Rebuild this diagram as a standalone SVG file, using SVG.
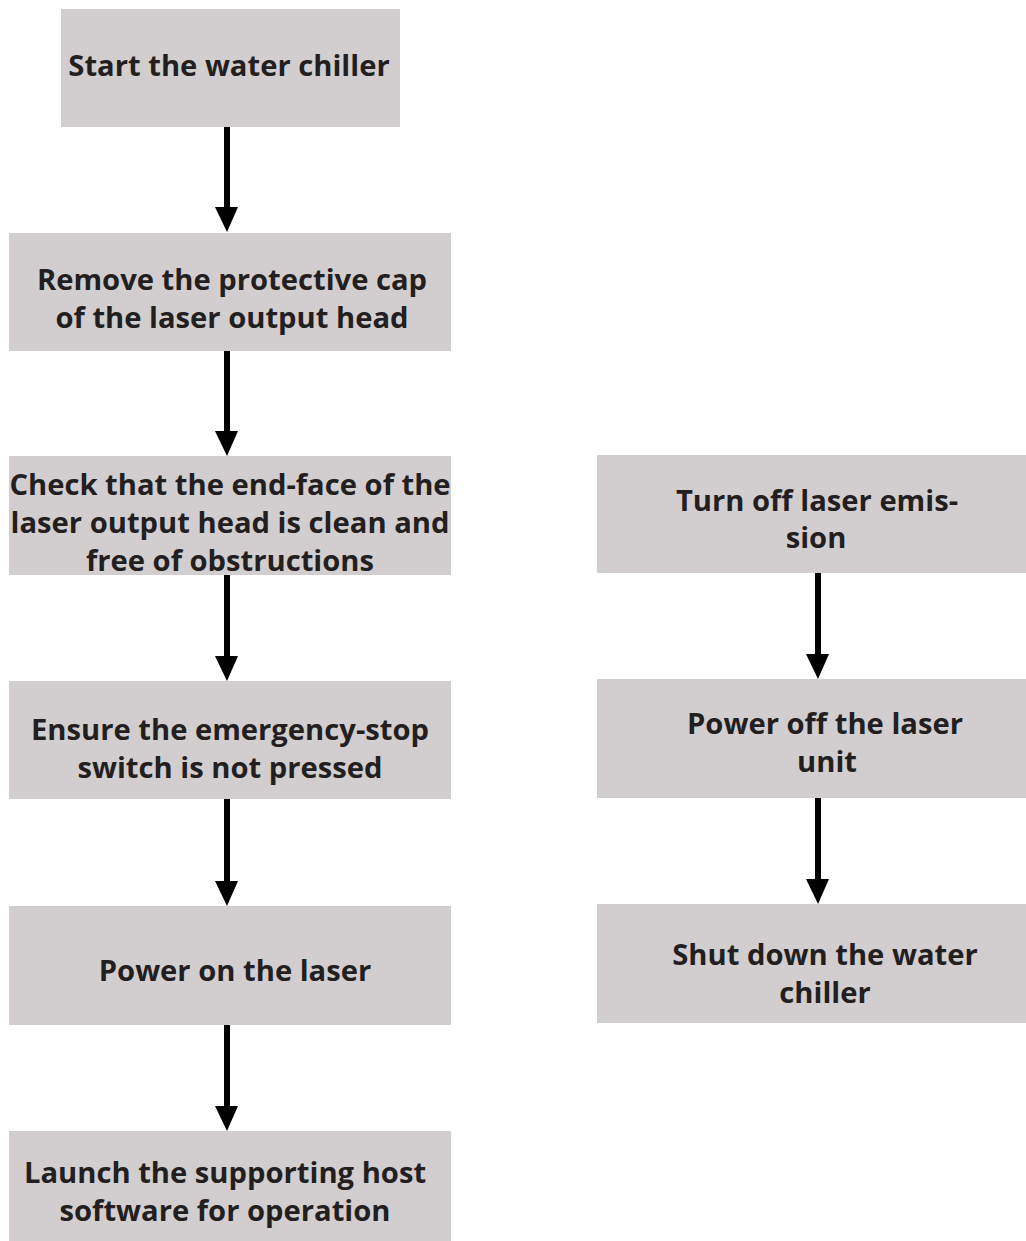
<svg xmlns="http://www.w3.org/2000/svg" width="1026" height="1241" viewBox="0 0 1026 1241">
<style>
.box{fill:#d2cecf}
.t{font-family:"Open Sans","Liberation Sans",sans-serif;font-weight:700;font-size:29.2px;fill:#231f20;text-anchor:middle}
.c{stroke:#000;stroke-width:6;fill:none}
</style>
<rect width="1026" height="1241" fill="#fff"/>
<g id="connectors">
<line class="c" x1="227" y1="127" x2="227" y2="207"/><path d="M215,207 L238,207 L227,232 Z"/>
<line class="c" x1="227" y1="351" x2="227" y2="431"/><path d="M215,431 L238,431 L227,456 Z"/>
<line class="c" x1="227" y1="575" x2="227" y2="656"/><path d="M215,656 L238,656 L227,681 Z"/>
<line class="c" x1="227" y1="799" x2="227" y2="881"/><path d="M215,881 L238,881 L227,906 Z"/>
<line class="c" x1="227" y1="1025" x2="227" y2="1106"/><path d="M215,1106 L238,1106 L227,1131 Z"/>
<line class="c" x1="818" y1="573" x2="818" y2="654"/><path d="M806,654 L829,654 L818,679 Z"/>
<line class="c" x1="818" y1="798" x2="818" y2="879"/><path d="M806,879 L829,879 L818,904 Z"/>
</g>
<g id="n1"><rect class="box" x="61" y="9" width="339" height="118"/>
<text class="t" x="229" y="76">Start the water chiller</text></g>
<g id="n2"><rect class="box" x="9" y="233" width="442" height="118"/>
<text class="t" x="232" y="290">Remove the protective cap</text>
<text class="t" x="232" y="328">of the laser output head</text></g>
<g id="n3"><rect class="box" x="9" y="456" width="442" height="119"/>
<text class="t" x="230" y="495">Check that the end-face of the</text>
<text class="t" x="230" y="533">laser output head is clean and</text>
<text class="t" x="230" y="571">free of obstructions</text></g>
<g id="n4"><rect class="box" x="9" y="681" width="442" height="118"/>
<text class="t" x="230" y="740">Ensure the emergency-stop</text>
<text class="t" x="230" y="778">switch is not pressed</text></g>
<g id="n5"><rect class="box" x="9" y="906" width="442" height="119"/>
<text class="t" x="235" y="981">Power on the laser</text></g>
<g id="n6"><rect class="box" x="9" y="1131" width="442" height="110"/>
<text class="t" x="225" y="1183">Launch the supporting host</text>
<text class="t" x="225" y="1221">software for operation</text></g>
<g id="r1"><rect class="box" x="597" y="455" width="429" height="118"/>
<text class="t" x="817" y="511">Turn off laser emis-</text>
<text class="t" x="816" y="548">sion</text></g>
<g id="r2"><rect class="box" x="597" y="679" width="429" height="119"/>
<text class="t" x="825" y="734">Power off the laser</text>
<text class="t" x="827" y="772">unit</text></g>
<g id="r3"><rect class="box" x="597" y="904" width="429" height="119"/>
<text class="t" x="825" y="965">Shut down the water</text>
<text class="t" x="825" y="1003">chiller</text></g>
</svg>
